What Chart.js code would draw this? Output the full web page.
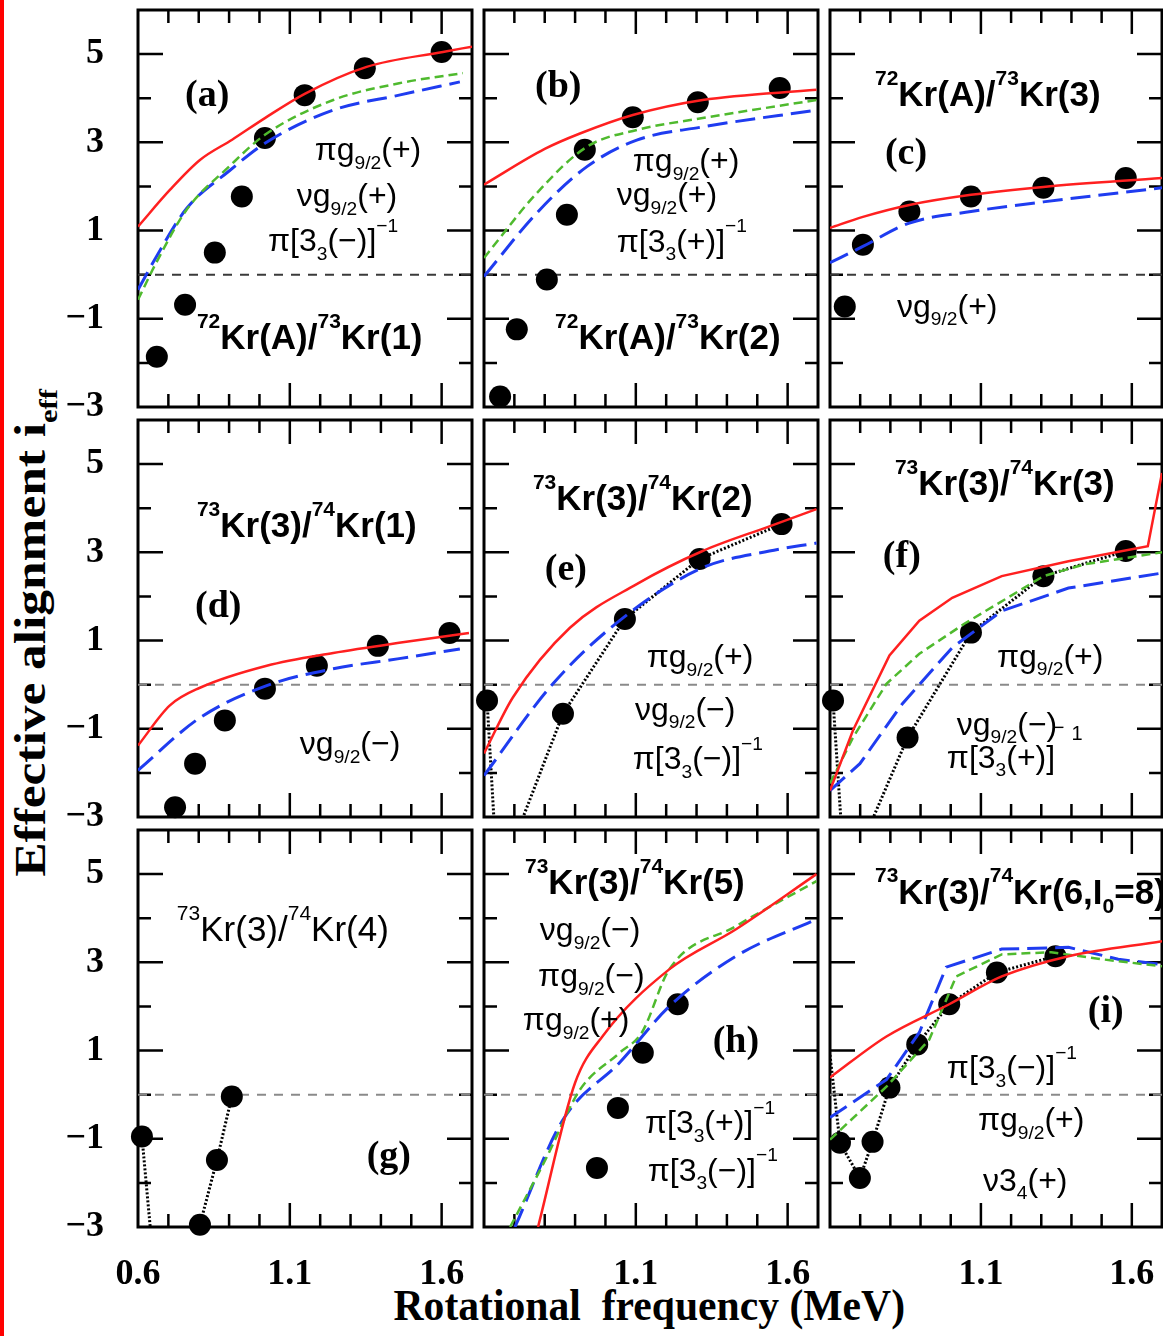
<!DOCTYPE html>
<html>
<head>
<meta charset="utf-8">
<script src="https://cdn.jsdelivr.net/npm/chart.js@4.4.0/dist/chart.umd.min.js"></script>
<style>
body { margin:0; background:#fff; width:1163px; height:1336px; overflow:hidden; position:relative; }
canvas { position:absolute; }
#redbar { position:absolute; left:0; top:0; width:4px; height:1336px; background:#f00; }
.title { position:absolute; font-family:'Liberation Serif', serif; font-weight:bold; font-size:44px;
         white-space:pre; color:#000; line-height:1; transform-origin:center center; }
.title span { font-size:26px; position:relative; top:12px; }
</style>
</head>
<body>
<div id="redbar"></div>
<div id="xtitle" class="title">Rotational  frequency (MeV)</div>
<div id="ytitle" class="title">Effective alignment i<span>eff</span></div>
<script>
// axis ticks
const xTickValues = [0.6, 0.7, 0.8, 0.9, 1.0, 1.1, 1.2, 1.3, 1.4, 1.5, 1.6, 1.7];
const xLabelValues = [0.6, 1.1, 1.6];
const yTickValues = [-3, -2, -1, 0, 1, 2, 3, 4, 5, 6];
const yLabelValues = [-3, -1, 1, 3, 5];

// (a) 72Kr(A)/73Kr(1)
const expA = [[0.662,-1.86],[0.755,-0.68],[0.853,0.50],[0.942,1.77],[1.018,3.10],[1.149,4.07],[1.347,4.68],[1.600,5.05]];
const redA = [[0.6,1.09],[0.705,1.92],[0.804,2.6],[0.91,3.06],[1.018,3.55],[1.149,4.1],[1.353,4.71],[1.604,5.05],[1.7,5.17]];
const greenA = [[0.6,-0.57],[0.66,0.27],[0.76,1.47],[0.9,2.45],[1.018,3.17],[1.243,3.96],[1.46,4.34],[1.67,4.57]];
const blueA = [[0.6,-0.34],[0.66,0.4],[0.76,1.5],[0.9,2.35],[1.018,2.98],[1.243,3.73],[1.46,4.07],[1.66,4.37]];

// (b) 72Kr(A)/73Kr(2)
const expB = [[0.653,-2.76],[0.708,-1.24],[0.807,-0.11],[0.873,1.36],[0.932,2.83],[1.09,3.57],[1.304,3.91],[1.574,4.23]];
const redB = [[0.6,2.04],[0.8,2.85],[0.916,3.2],[1.09,3.62],[1.32,3.96],[1.695,4.19]];
const greenB = [[0.6,0.38],[0.774,1.85],[0.939,2.9],[1.103,3.28],[1.32,3.55],[1.695,3.96]];
const blueB = [[0.6,-0.04],[0.774,1.4],[0.939,2.45],[1.103,3.05],[1.32,3.35],[1.695,3.73]];

// (c) 72Kr(A)/73Kr(3)
const expC = [[0.649,-0.72],[0.709,0.68],[0.863,1.43],[1.067,1.77],[1.307,1.97],[1.58,2.19]];
const redC = [[0.6,1.06],[0.709,1.31],[0.863,1.58],[1.067,1.81],[1.307,1.99],[1.7,2.19]];
const blueC = [[0.6,0.27],[0.709,0.64],[0.863,1.17],[1.067,1.43],[1.307,1.65],[1.7,1.97]];

// (d) 73Kr(3)/74Kr(1)
const expD = [[0.722,-2.78],[0.788,-1.79],[0.886,-0.81],[1.018,-0.09],[1.189,0.43],[1.39,0.88],[1.626,1.17]];
const redD = [[0.6,-1.38],[0.705,-0.47],[0.804,-0.07],[1.024,0.43],[1.243,0.72],[1.46,0.95],[1.69,1.17]];
const blueD = [[0.6,-1.94],[0.804,-0.75],[1.024,-0.02],[1.243,0.36],[1.46,0.59],[1.66,0.81]];

// (e) 73Kr(3)/74Kr(2)
const expE = [[0.61,-0.36],[0.86,-0.66],[1.064,1.49],[1.31,2.85],[1.58,3.64]];
const offE = [[0.645,-4.5]];
const redE = [[0.6,-1.56],[0.695,-0.29],[0.883,1.29],[1.103,2.28],[1.32,3.03],[1.54,3.59],[1.695,3.98]];
const blueE = [[0.6,-2.06],[0.827,0.02],[1.057,1.51],[1.32,2.65],[1.54,3.03],[1.695,3.21]];

// (f) 73Kr(3)/74Kr(3)
const expF = [[0.61,-0.36],[0.857,-1.2],[1.067,1.18],[1.307,2.46],[1.58,3.03]];
const offF = [[0.65,-4.5]];
const redF = [[0.6,-2.4],[0.676,-1.04],[0.797,0.66],[0.896,1.45],[1.005,1.97],[1.169,2.46],[1.39,2.8],[1.653,3.14],[1.7,4.8]];
const greenF = [[0.6,-2.24],[0.676,-1.2],[0.787,0.02],[0.896,0.7],[1.045,1.38],[1.225,2.12],[1.307,2.46],[1.445,2.73],[1.7,3.0]];
const blueF = [[0.6,-2.4],[0.699,-1.79],[0.84,-0.43],[1.005,0.84],[1.169,1.67],[1.39,2.19],[1.7,2.53]];

// (g) 73Kr(3)/74Kr(4)
const expG = [[0.613,-0.95],[0.804,-2.95],[0.86,-1.48],[0.909,-0.04]];
const offG = [[0.68,-6]];

// (h) 73Kr(3)/74Kr(5)
const expH = [[0.972,-1.66],[1.041,-0.30],[1.123,0.95],[1.238,2.05]];
const redH = [[0.778,-3.0],[0.9,0.27],[0.99,1.32],[1.21,2.84],[1.43,3.75],[1.695,5.0]];
const greenH = [[0.686,-3.0],[0.807,-1.41],[0.916,0.11],[1.047,0.95],[1.12,1.41],[1.21,2.84],[1.43,3.82],[1.695,4.84]];
const blueH = [[0.702,-3.0],[0.86,-0.57],[1.047,0.73],[1.21,2.0],[1.43,3.14],[1.695,3.98]];

// (i) 73Kr(3)/74Kr(6,I0=8)
const expI = [[0.633,-1.09],[0.699,-1.89],[0.741,-1.07],[0.797,0.16],[0.889,1.14],[0.995,2.05],[1.153,2.77],[1.347,3.14]];
const offI = [[0.6,0.9]];
const redI = [[0.6,0.39],[0.787,1.32],[0.995,2.05],[1.169,2.68],[1.39,3.14],[1.7,3.48]];
const greenI = [[0.6,-1.02],[0.787,0.18],[0.929,1.25],[1.018,2.68],[1.169,3.18],[1.333,3.23],[1.5,3.07],[1.7,2.91]];
const blueI = [[0.6,-0.52],[0.787,0.34],[0.896,1.41],[0.985,2.89],[1.169,3.3],[1.39,3.34],[1.555,3.07],[1.7,2.95]];

// text labels in each panel: [text, x, y, style]
const notesA = [['(a)',0.755,4.04,'tag'],['^{72}Kr(A)/^{73}Kr(1)',0.794,-1.47,'kr'],
  ['πg_{9/2}(+)',1.182,2.79,'cfg'],['νg_{9/2}(+)',1.123,1.75,'cfg'],['π[3_{3}(−)]^{−1}',1.028,0.73,'cfg']];
const notesB = [['(b)',0.768,4.24,'tag'],['^{72}Kr(A)/^{73}Kr(2)',0.834,-1.47,'kr'],
  ['πg_{9/2}(+)',1.09,2.54,'cfg'],['νg_{9/2}(+)',1.037,1.77,'cfg'],['π[3_{3}(+)]^{−1}',1.037,0.72,'cfg']];
const notesC = [['^{72}Kr(A)/^{73}Kr(3)',0.749,4.04,'kr'],['(c)',0.782,2.72,'tag'],['νg_{9/2}(+)',0.822,-0.75,'cfg']];
const notesD = [['^{73}Kr(3)/^{74}Kr(1)',0.794,3.56,'kr'],['(d)',0.788,1.75,'tag'],['νg_{9/2}(−)',1.133,-1.38,'cfg']];
const notesE = [['^{73}Kr(3)/^{74}Kr(2)',0.761,4.17,'kr'],['(e)',0.8,2.59,'tag'],
  ['πg_{9/2}(+)',1.136,0.59,'cfg'],['νg_{9/2}(−)',1.097,-0.59,'cfg'],['π[3_{3}(−)]^{−1}',1.09,-1.72,'cfg']];
const notesF = [['^{73}Kr(3)/^{74}Kr(3)',0.815,4.51,'kr'],['(f)',0.775,2.88,'tag'],
  ['πg_{9/2}(+)',1.153,0.61,'cfg'],['νg_{9/2}(−)',1.02,-0.93,'cfg'],['π[3_{3}(+)]',0.987,-1.68,'cfg'],
  ['−',1.338,-1.0,'tiny'],['1',1.40,-1.12,'tiny']];
const notesG = [['^{73}Kr(3)/^{74}Kr(4)',0.728,3.7,'krLight'],['(g)',1.353,-1.41,'tag']];
const notesH = [['^{73}Kr(3)/^{74}Kr(5)',0.735,4.77,'kr'],['νg_{9/2}(−)',0.784,3.7,'cfg'],
  ['πg_{9/2}(−)',0.778,2.66,'cfg'],['πg_{9/2}(+)',0.728,1.66,'cfg'],['(h)',1.353,1.2,'tag'],
  ['π[3_{3}(+)]^{−1}',1.13,-0.68,'cfg'],['π[3_{3}(−)]^{−1}',1.139,-1.75,'cfg']];
const notesI = [['^{73}Kr(3)/^{74}Kr(6,I_{0}=8)',0.749,4.55,'kr'],['(i)',1.454,1.86,'tag'],
  ['π[3_{3}(−)]^{−1}',0.987,0.57,'cfg'],['πg_{9/2}(+)',1.09,-0.61,'cfg'],['ν3_{4}(+)',1.107,-1.98,'cfg']];

const noteStyles = {
  tag:     { family: "'Liberation Serif', serif", weight: 'bold',   size: 38 },
  kr:      { family: "'Liberation Sans', sans-serif", weight: 'bold', size: 35 },
  krLight: { family: "'Liberation Sans', sans-serif", weight: 'normal', size: 35 },
  cfg:     { family: "'Liberation Sans', sans-serif", weight: 'normal', size: 32 },
  tiny:    { family: "'Liberation Sans', sans-serif", weight: 'normal', size: 20 }
};

const panels = [
  { row:0, col:0, exp:expA, red:redA, green:greenA, blue:blueA, notes:notesA },
  { row:0, col:1, exp:expB, red:redB, green:greenB, blue:blueB, notes:notesB },
  { row:0, col:2, exp:expC, red:redC, blue:blueC, notes:notesC },
  { row:1, col:0, exp:expD, red:redD, blue:blueD, notes:notesD },
  { row:1, col:1, exp:expE, off:offE, red:redE, blue:blueE, notes:notesE },
  { row:1, col:2, exp:expF, off:offF, red:redF, green:greenF, blue:blueF, notes:notesF, straight:['red','green','blue'] },
  { row:2, col:0, exp:expG, off:offG, notes:notesG },
  { row:2, col:1, exp:expH, red:redH, green:greenH, blue:blueH, notes:notesH },
  { row:2, col:2, exp:expI, off:offI, red:redI, green:greenI, blue:blueI, notes:notesI, straight:['green','blue'] }
];

// frame placement (pixels)
const frameLeft = [138, 484, 830];
const frameWidth = [334, 334, 332];
const frameTop = [10, 420, 830];
const frameHeight = 397;

const toXY = arr => arr.map(p => ({ x: p[0], y: p[1] }));

function drawRich(ctx, str, x, y, st) {
  const parts = str.split(/(\^\{[^}]*\}|_\{[^}]*\})/).filter(s => s.length);
  let cx = x;
  ctx.textBaseline = 'middle';
  ctx.textAlign = 'left';
  ctx.fillStyle = '#000';
  parts.forEach(p => {
    let size = st.size, dy = 0, t = p;
    if (p.startsWith('^{')) { size = st.size * 0.6; dy = -st.size * 0.5; t = p.slice(2, -1); }
    else if (p.startsWith('_{')) { size = st.size * 0.6; dy = st.size * 0.38; t = p.slice(2, -1); }
    ctx.font = st.weight + ' ' + size + 'px ' + st.family;
    ctx.fillText(t, cx, y + dy);
    cx += ctx.measureText(t).width;
  });
}

// frame with inward ticks on all four sides
const frameTicks = {
  id: 'frameTicks',
  beforeDatasetsDraw(chart) {
    const { ctx, chartArea: a, scales: { x, y } } = chart;
    ctx.save();
    ctx.strokeStyle = '#000';
    ctx.lineWidth = 2.5;
    ctx.beginPath();
    xTickValues.forEach(v => {
      if (v <= 0.6 || v >= 1.7) return;
      const px = x.getPixelForValue(v);
      const len = xLabelValues.includes(v) ? 24 : 13;
      ctx.moveTo(px, a.bottom); ctx.lineTo(px, a.bottom - len);
      ctx.moveTo(px, a.top); ctx.lineTo(px, a.top + len);
    });
    yTickValues.forEach(v => {
      if (v <= -3 || v >= 6) return;
      const py = y.getPixelForValue(v);
      const len = yLabelValues.includes(v) ? 25 : 13;
      ctx.moveTo(a.left, py); ctx.lineTo(a.left + len, py);
      ctx.moveTo(a.right, py); ctx.lineTo(a.right - len, py);
    });
    ctx.stroke();
    ctx.lineWidth = 3;
    ctx.strokeRect(a.left, a.top, a.right - a.left, a.bottom - a.top);
    ctx.restore();
  }
};

function makeNotes(notes) {
  return {
    id: 'panelNotes',
    afterDatasetsDraw(chart) {
      const { ctx, scales: { x, y } } = chart;
      ctx.save();
      notes.forEach(n => drawRich(ctx, n[0], x.getPixelForValue(n[1]), y.getPixelForValue(n[2]), noteStyles[n[3]]));
      ctx.restore();
    }
  };
}

function curve(data, color, width, dash, straight) {
  return {
    data: toXY(data), showLine: true, borderColor: color, borderWidth: width,
    borderDash: dash, pointRadius: 0, fill: false,
    tension: straight ? 0 : 0.4, cubicInterpolationMode: straight ? 'default' : 'monotone'
  };
}

panels.forEach(p => {
  const padL = p.col === 0 ? 90 : 16;
  const padR = 16, padT = 16;
  const padB = p.row === 2 ? 70 : 26;
  const cv = document.createElement('canvas');
  const w = frameWidth[p.col] + padL + padR;
  const h = frameHeight + padT + padB;
  cv.width = w; cv.height = h;
  cv.style.left = (frameLeft[p.col] - padL) + 'px';
  cv.style.top = (frameTop[p.row] - padT) + 'px';
  document.body.appendChild(cv);

  const straight = p.straight || [];
  const datasets = [];
  if (p.red) datasets.push(curve(p.red, '#ff2020', 2.5, [], straight.includes('red')));
  if (p.green) datasets.push(curve(p.green, '#4fba2e', 2.5, [9, 5], straight.includes('green')));
  if (p.blue) datasets.push(curve(p.blue, '#1f3cf0', 3, [20, 8], straight.includes('blue')));
  if (p.off) {
    const path = p.exp.concat(p.off).sort((u, v) => u[0] - v[0]);
    datasets.push(curve(path, '#000', 3, [2, 2], true));
  }
  datasets.push({
    data: toXY(p.exp), showLine: false, pointRadius: 11, pointHoverRadius: 11,
    pointBackgroundColor: '#000', pointBorderWidth: 0, clip: false
  });
  datasets.push(curve([[0.6, 0], [1.7, 0]], p.row === 0 ? '#3a3a3a' : '#8a8a8a', 2, [9, 8], true));

  const tickFont = { family: "'Liberation Serif', serif", weight: 'bold', size: 36 };
  new Chart(cv, {
    type: 'scatter',
    data: { datasets },
    options: {
      responsive: false,
      animation: false,
      devicePixelRatio: 1,
      layout: { padding: { left: 0, right: padR, top: padT, bottom: 0 } },
      plugins: { legend: { display: false }, tooltip: { enabled: false }, title: { display: false } },
      events: [],
      scales: {
        x: {
          type: 'linear', min: 0.6, max: 1.7,
          grid: { display: false }, border: { display: false },
          afterBuildTicks: s => { s.ticks = (p.col === 0 ? xLabelValues : xLabelValues.slice(1)).map(v => ({ value: v })); },
          afterFit: s => { s.height = padB; s.paddingLeft = 0; s.paddingRight = 0; },
          ticks: {
            display: p.row === 2, autoSkip: false, maxRotation: 0, padding: 18,
            color: '#000', font: tickFont, callback: v => v.toFixed(1)
          }
        },
        y: {
          type: 'linear', min: -3, max: 6,
          grid: { display: false }, border: { display: false },
          afterBuildTicks: s => { s.ticks = yLabelValues.map(v => ({ value: v })); },
          afterFit: s => { s.width = padL; s.paddingTop = 0; s.paddingBottom = 0; },
          ticks: {
            display: p.col === 0, autoSkip: false, padding: 26,
            color: '#000', font: tickFont, callback: v => (v < 0 ? '−' + (-v) : String(v))
          }
        }
      }
    },
    plugins: [frameTicks, makeNotes(p.notes)]
  });
});

function placeTitle(id, cx, cy, length, rotate) {
  const el = document.getElementById(id);
  const w = el.offsetWidth, h = el.offsetHeight;
  el.style.left = (cx - w / 2) + 'px';
  el.style.top = (cy - h / 2) + 'px';
  el.style.transform = (rotate ? 'rotate(-90deg) ' : '') + 'scaleX(' + (length / w) + ')';
}
placeTitle('xtitle', 649, 1306, 512, false);
placeTitle('ytitle', 30, 633, 487, true);
</script>
</body>
</html>
